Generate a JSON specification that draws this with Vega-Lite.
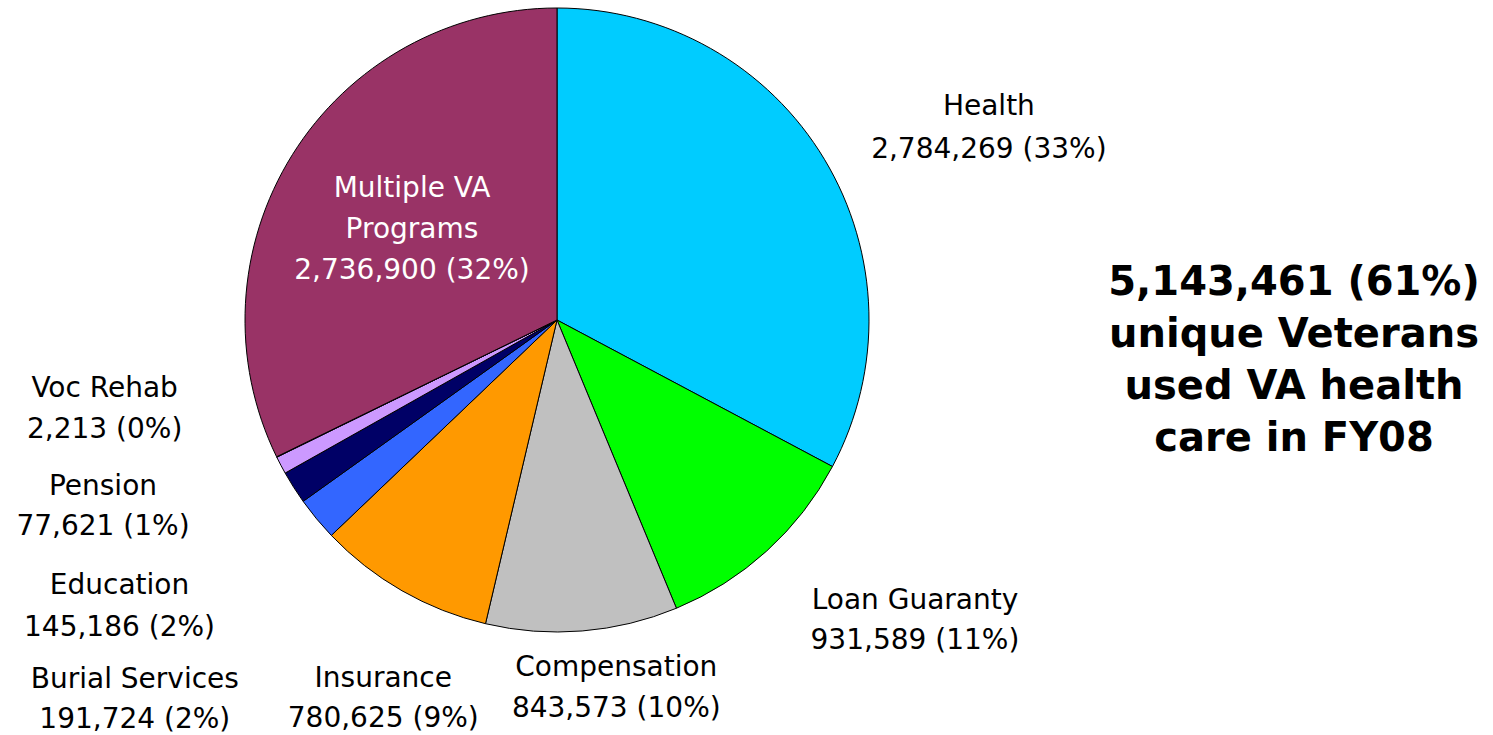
{
  "$schema": "https://vega.github.io/schema/vega-lite/v6.json",
  "padding": 0,
  "background": "white",
  "spacing": 0,
  "bounds": "flush",
  "config": {"view": {"stroke": null}, "text": {"font": "DejaVu Sans"}},
  "hconcat": [
    {
      "width": 1114,
      "height": 640,
      "data": {
        "values": [
          {"program": "Health", "value": 2784269, "label": "Health\n2,784,269 (33%)"},
          {"program": "Loan Guaranty", "value": 931589, "label": "Loan Guaranty\n931,589 (11%)"},
          {"program": "Compensation", "value": 843573, "label": "Compensation\n843,573 (10%)"},
          {"program": "Insurance", "value": 780625, "label": "Insurance\n780,625 (9%)"},
          {"program": "Burial Services", "value": 191724, "label": "Burial Services\n191,724 (2%)"},
          {"program": "Education", "value": 145186, "label": "Education\n145,186 (2%)"},
          {"program": "Pension", "value": 77621, "label": "Pension\n77,621 (1%)"},
          {"program": "Voc Rehab", "value": 2213, "label": "Voc Rehab\n2,213 (0%)"},
          {"program": "Multiple VA Programs", "value": 2736900, "label": "Multiple VA\nPrograms\n2,736,900 (32%)"}
        ]
      },
      "transform": [{"window": [{"op": "row_number", "as": "idx"}]}],
      "encoding": {
        "theta": {"field": "value", "type": "quantitative", "stack": true},
        "order": {"field": "idx", "type": "quantitative"},
        "detail": {"field": "program", "type": "nominal"}
      },
      "layer": [
        {
          "mark": {"type": "arc", "outerRadius": 312, "stroke": "black", "strokeWidth": 1},
          "encoding": {
            "color": {
              "field": "program",
              "type": "nominal",
              "legend": null,
              "scale": {
                "domain": ["Health", "Loan Guaranty", "Compensation", "Insurance", "Burial Services", "Education", "Pension", "Voc Rehab", "Multiple VA Programs"],
                "range": ["#00CCFF", "#00FF00", "#C0C0C0", "#FF9900", "#3366FF", "#000066", "#CC99FF", "#CC99FF", "#993366"]
              }
            }
          }
        },
        {
          "mark": {"type": "text", "radius": 400, "dx": 89, "dy": -7, "lineHeight": 43, "lineBreak": "\n", "fill": "black"},
          "encoding": {
            "text": {"condition": {"test": "datum.program === 'Health'", "field": "label", "type": "nominal"}, "value": ""},
            "size": {"condition": {"test": "datum.program === 'Health'", "value": 28}, "value": 0}
          }
        },
        {
          "mark": {"type": "text", "radius": 400, "dx": 89, "dy": -15, "lineHeight": 40, "lineBreak": "\n", "fill": "black"},
          "encoding": {
            "text": {"condition": {"test": "datum.program === 'Loan Guaranty'", "field": "label", "type": "nominal"}, "value": ""},
            "size": {"condition": {"test": "datum.program === 'Loan Guaranty'", "value": 28}, "value": 0}
          }
        },
        {
          "mark": {"type": "text", "radius": 400, "dx": 27, "dy": -51, "lineHeight": 41, "lineBreak": "\n", "fill": "black"},
          "encoding": {
            "text": {"condition": {"test": "datum.program === 'Compensation'", "field": "label", "type": "nominal"}, "value": ""},
            "size": {"condition": {"test": "datum.program === 'Compensation'", "value": 28}, "value": 0}
          }
        },
        {
          "mark": {"type": "text", "radius": 400, "dx": 25, "dy": 12, "lineHeight": 40, "lineBreak": "\n", "fill": "black"},
          "encoding": {
            "text": {"condition": {"test": "datum.program === 'Insurance'", "field": "label", "type": "nominal"}, "value": ""},
            "size": {"condition": {"test": "datum.program === 'Insurance'", "value": 28}, "value": 0}
          }
        },
        {
          "mark": {"type": "text", "radius": 400, "dx": -114, "dy": 105, "lineHeight": 40, "lineBreak": "\n", "fill": "black"},
          "encoding": {
            "text": {"condition": {"test": "datum.program === 'Burial Services'", "field": "label", "type": "nominal"}, "value": ""},
            "size": {"condition": {"test": "datum.program === 'Burial Services'", "value": 28}, "value": 0}
          }
        },
        {
          "mark": {"type": "text", "radius": 400, "dx": -100, "dy": 51, "lineHeight": 42, "lineBreak": "\n", "fill": "black"},
          "encoding": {
            "text": {"condition": {"test": "datum.program === 'Education'", "field": "label", "type": "nominal"}, "value": ""},
            "size": {"condition": {"test": "datum.program === 'Education'", "value": 28}, "value": 0}
          }
        },
        {
          "mark": {"type": "text", "radius": 400, "dx": -100, "dy": -19, "lineHeight": 40, "lineBreak": "\n", "fill": "black"},
          "encoding": {
            "text": {"condition": {"test": "datum.program === 'Pension'", "field": "label", "type": "nominal"}, "value": ""},
            "size": {"condition": {"test": "datum.program === 'Pension'", "value": 28}, "value": 0}
          }
        },
        {
          "mark": {"type": "text", "radius": 400, "dx": -93, "dy": -107, "lineHeight": 41, "lineBreak": "\n", "fill": "black"},
          "encoding": {
            "text": {"condition": {"test": "datum.program === 'Voc Rehab'", "field": "label", "type": "nominal"}, "value": ""},
            "size": {"condition": {"test": "datum.program === 'Voc Rehab'", "value": 28}, "value": 0}
          }
        },
        {
          "mark": {"type": "text", "radius": 171, "dy": -40, "lineHeight": 41, "lineBreak": "\n", "fill": "white"},
          "encoding": {
            "text": {"condition": {"test": "datum.program === 'Multiple VA Programs'", "field": "label", "type": "nominal"}, "value": ""},
            "size": {"condition": {"test": "datum.program === 'Multiple VA Programs'", "value": 28}, "value": 0}
          }
        }
      ]
    },
    {
      "width": 360,
      "height": 720,
      "data": {"values": [{"note": "5,143,461 (61%)\nunique Veterans\nused VA health\ncare in FY08"}]},
      "mark": {"type": "text", "fontWeight": "bold", "fontSize": 40, "lineHeight": 52, "lineBreak": "\n", "dy": -77, "fill": "black"},
      "encoding": {"text": {"field": "note", "type": "nominal"}}
    }
  ]
}
